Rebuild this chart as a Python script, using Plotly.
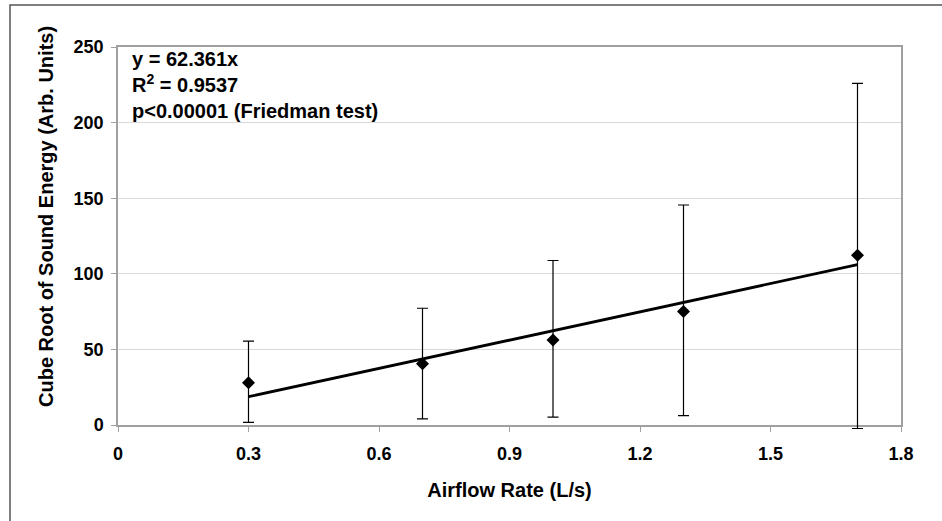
import plotly.graph_objects as go

airflow = [0.3, 0.7, 1.0, 1.3, 1.7]
energy = [28.0, 40.5, 56.2, 75.1, 112.2]
err_upper = [55.5, 77.2, 108.8, 145.5, 226.0]
err_lower = [1.8, 4.0, 5.2, 6.2, -2.3]
slope = 62.361
x_ticks = [0, 0.3, 0.6, 0.9, 1.2, 1.5, 1.8]
y_ticks = [0, 50, 100, 150, 200, 250]

err_plus = [u - v for u, v in zip(err_upper, energy)]
err_minus = [v - l for v, l in zip(energy, err_lower)]
trend_x = [airflow[0], airflow[-1]]
trend_y = [slope * x for x in trend_x]

FONT = "Liberation Sans, Arial, sans-serif"

W, H = 942, 521
L, R, T = 118, 41, 47
EXTRA = 12            # extra room below the zero line for the overlay axes
B = 96 - EXTRA
pw, ph = W - L - R, H - T - B
d = EXTRA / ph
Y_MIN, Y_MAX = 0, 250
y2_min = Y_MIN - (Y_MAX - Y_MIN) * d / (1 - d)

fig = go.Figure()
fig.add_trace(go.Scatter(
    x=trend_x, y=trend_y, mode="lines",
    line=dict(color="black", width=2.8),
    showlegend=False, xaxis="x2", yaxis="y2",
))
fig.add_trace(go.Scatter(
    x=airflow, y=energy, mode="markers",
    marker=dict(symbol="diamond", size=10, color="black"),
    error_y=dict(type="data", symmetric=False, array=err_plus, arrayminus=err_minus,
                 color="black", thickness=1.2, width=5.5),
    showlegend=False, xaxis="x2", yaxis="y2",
))
# invisible trace so the main axes are drawn
fig.add_trace(go.Scatter(x=[None], y=[None], showlegend=False, hoverinfo="skip",
                         xaxis="x", yaxis="y"))

fig.update_layout(
    width=W, height=H,
    margin=dict(l=L, r=R, t=T, b=B),
    paper_bgcolor="white", plot_bgcolor="rgba(0,0,0,0)",
    font=dict(family=FONT, size=18, color="black"),
    xaxis=dict(
        domain=[0, 1], anchor="y",
        range=[0, 1.8], tickvals=x_ticks, ticktext=[f"{v:g}" for v in x_ticks],
        showgrid=False, zeroline=False,
        showline=True, linecolor="#a0a0a0", linewidth=1.5, mirror=True,
        ticks="outside", ticklen=5, tickcolor="#a0a0a0", ticklabelstandoff=7,
        tickfont=dict(family=FONT, size=18, color="black", weight="bold"),
        title=dict(text="<b>Airflow Rate (L/s)</b>", standoff=20,
                   font=dict(family=FONT, size=20)),
    ),
    yaxis=dict(
        domain=[d, 1], anchor="x",
        range=[Y_MIN, Y_MAX], tickvals=y_ticks,
        showgrid=True, gridcolor="#d9d9d9", gridwidth=1, zeroline=False,
        showline=True, linecolor="#a0a0a0", linewidth=1.5, mirror=True,
        ticks="outside", ticklen=5, tickcolor="#a0a0a0", ticklabelstandoff=4,
        tickfont=dict(family=FONT, size=18, color="black", weight="bold"),
    ),
    xaxis2=dict(domain=[0, 1], anchor="y2", range=[0, 1.8], visible=False),
    yaxis2=dict(domain=[0, 1], anchor="x2", range=[y2_min, Y_MAX], visible=False),
    annotations=[
        dict(
            xref="paper", yref="paper", x=(130 - L) / pw, y=1 + (T - 46) / ph,
            xanchor="left", yanchor="top", align="left", showarrow=False,
            text="<b>y = 62.361x<br>R<sup>2</sup> = 0.9537<br>p<0.00001 (Friedman test)</b>",
            font=dict(family=FONT, size=20, color="black"),
        ),
        dict(
            xref="paper", yref="paper", x=(46 - L) / pw, y=1 - (217 - T) / ph,
            xanchor="center", yanchor="middle", showarrow=False, textangle=-90,
            text="<b>Cube Root of Sound Energy (Arb. Units)</b>",
            font=dict(family=FONT, size=20, color="black"),
        ),
    ],
    shapes=[dict(
        type="rect", xref="paper", yref="paper",
        x0=(10 - L) / pw, x1=(W + 5 - L) / pw,
        y0=1 - (H + 5 - T) / ph, y1=1 + (T - 5) / ph,
        line=dict(color="#555555", width=1.5), fillcolor="rgba(0,0,0,0)", layer="below",
    )],
)

fig.write_html("out.html")
